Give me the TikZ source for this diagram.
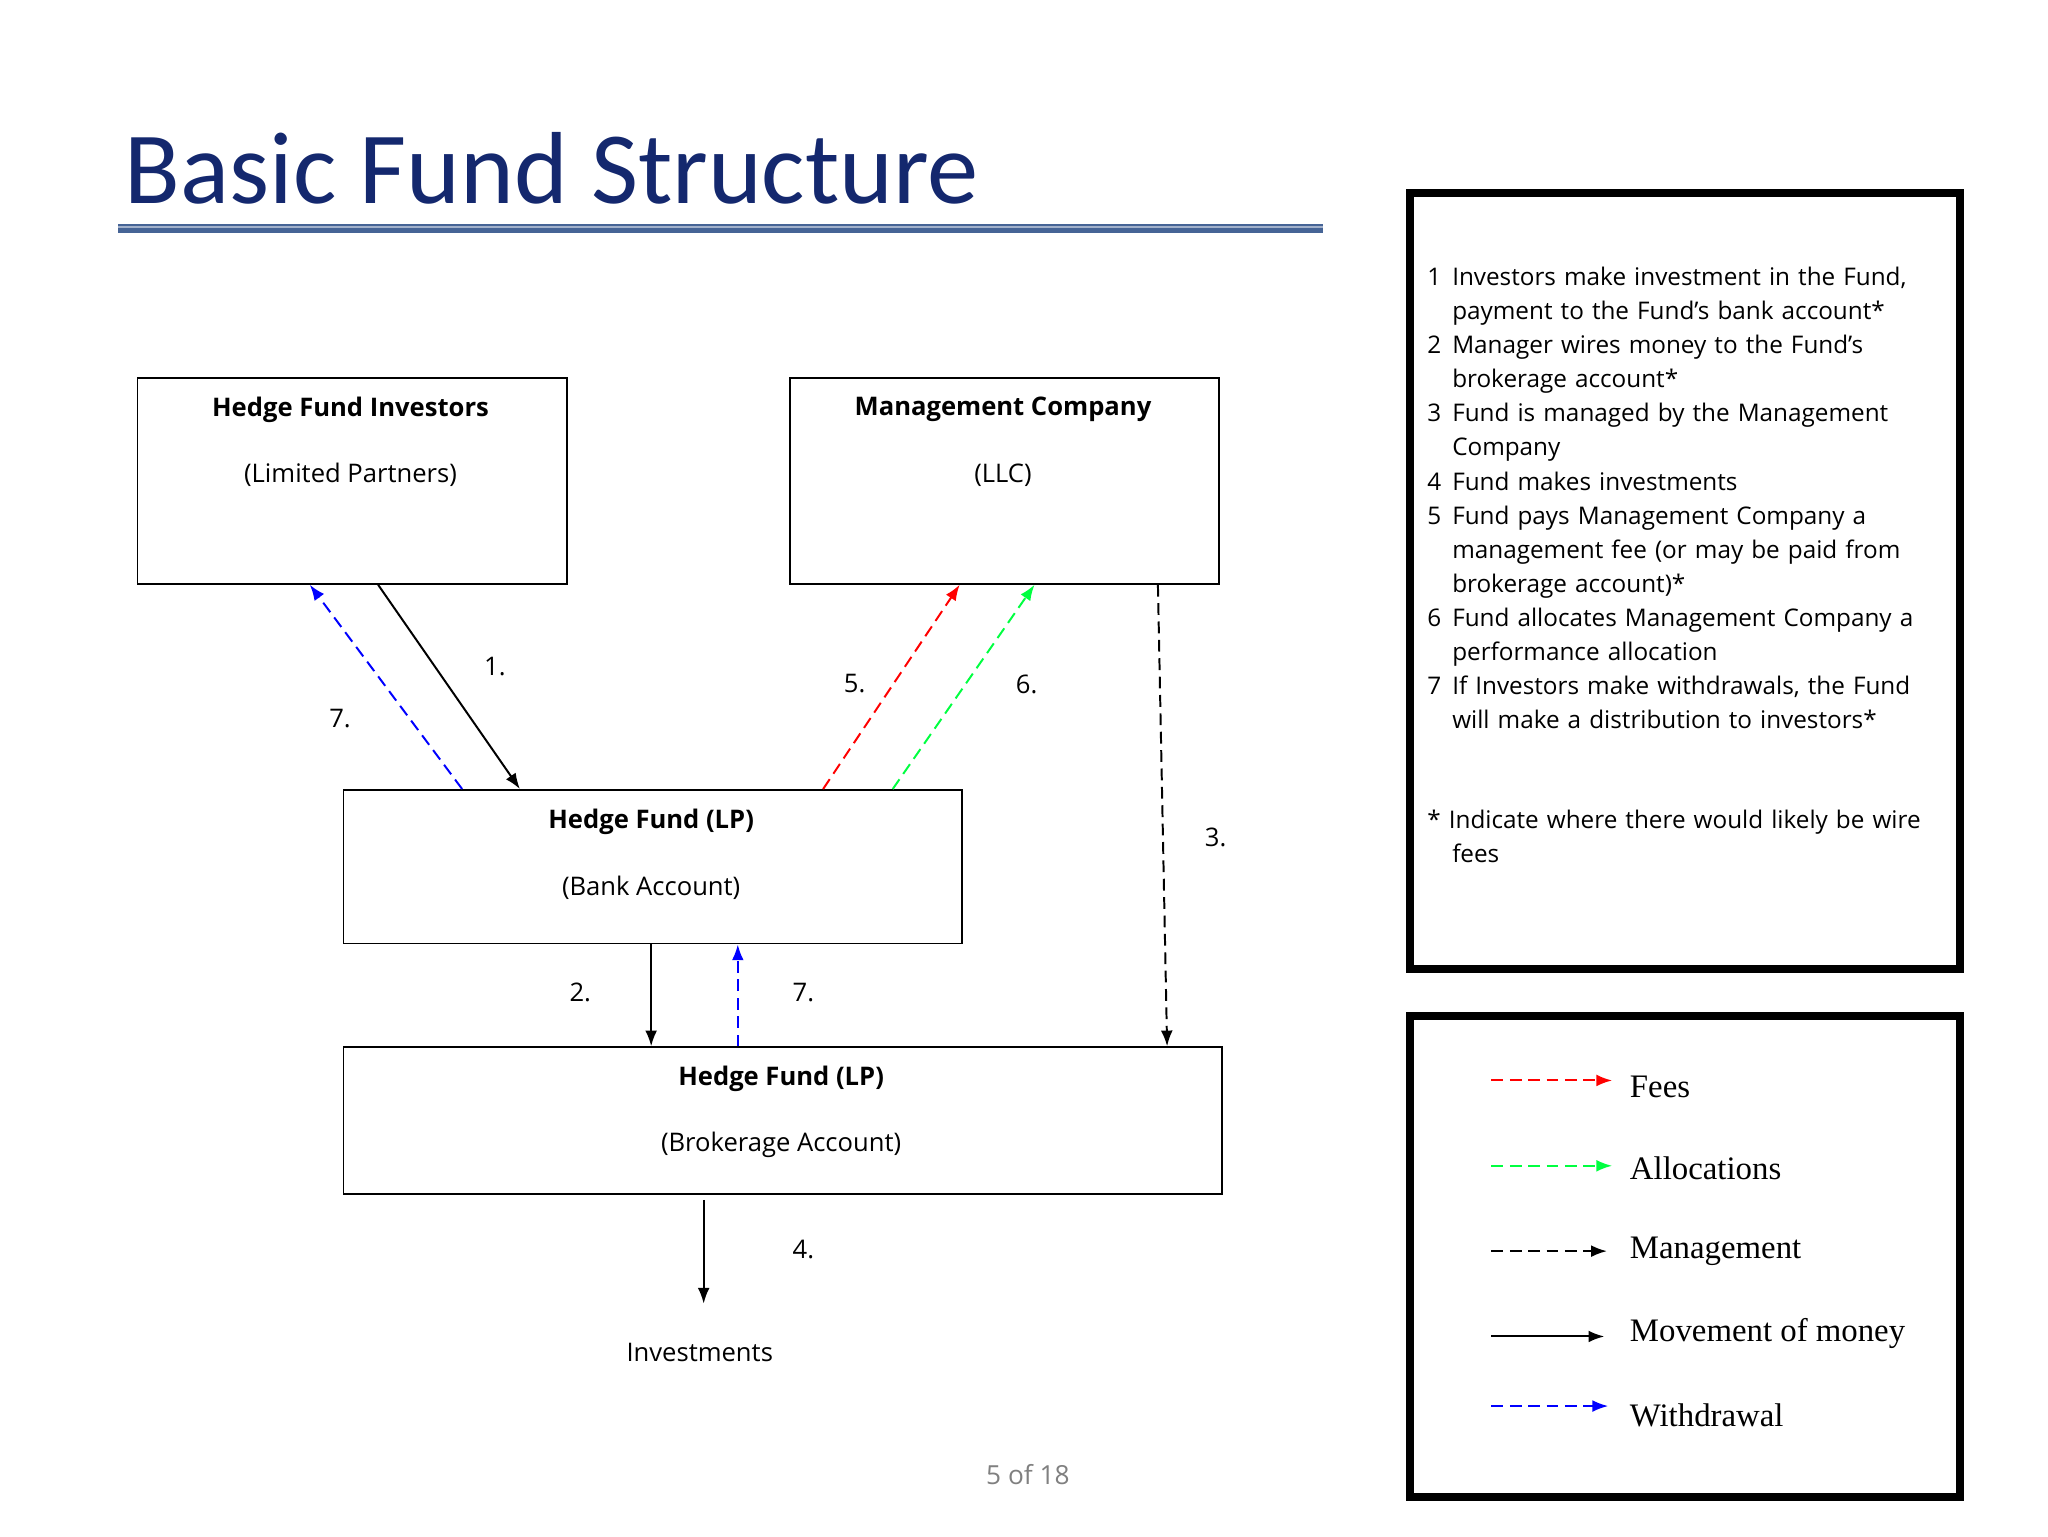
\documentclass[tikz,border=0pt]{standalone}
\usepackage{fontspec}
\setmainfont{Open Sans}
\newfontfamily\titlefont{Carlito}
\newfontfamily\serif{Liberation Serif}
\usetikzlibrary{arrows.meta}
\definecolor{navy}{RGB}{20,40,110}
\definecolor{rule}{RGB}{70,100,150}
\begin{document}
\begin{tikzpicture}[x=1pt,y=-1pt,
  box/.style={draw,line width=1.4pt,inner sep=0,anchor=north west},
  lbl/.style={font=\fontsize{19.5}{23}\selectfont},
  blbl/.style={font=\bfseries\fontsize{19.5}{23}\selectfont},
  arr/.style={line width=1.5pt,-{Latex[length=12pt,width=9pt]}},
  dsh/.style={arr,dash pattern=on 9pt off 5pt},
  leg/.style={font=\serif\fontsize{25}{30}\selectfont,anchor=west},
  note/.style={font=\fontsize{18.5}{26}\selectfont,anchor=north west,align=left,text width=410pt,inner sep=0}]
\useasboundingbox (0,0) rectangle (1560,1170);
\node[anchor=base west,inner sep=0,text=navy,font=\titlefont\fontsize{78}{82}\selectfont] (title) at (95,155) {Basic Fund Structure};
\draw[line width=7pt,color=rule] (90,174) -- (1008,174);
\draw[line width=1.5pt,color=rule!50] (90,173) -- (1008,173);
% boxes
\node[box,minimum width=327pt,minimum height=157pt] (inv) at (104,287) {};
\node[blbl] (invt) at (267,312) {Hedge Fund Investors};
\node[lbl] (invs) at (267,362) {(Limited Partners)};
\node[box,minimum width=327pt,minimum height=157pt] (mc) at (601,287) {};
\node[blbl] (mct) at (764,312) {Management Company};
\node[lbl] (mcs) at (764,362) {(LLC)};
\node[box,minimum width=471pt,minimum height=117pt] (bank) at (261,601) {};
\node[blbl] (bankt) at (496,626) {Hedge Fund (LP)};
\node[lbl] (banks) at (496,676) {(Bank Account)};
\node[box,minimum width=669pt,minimum height=112pt] (brk) at (261,797) {};
\node[blbl] (brkt) at (595,822) {Hedge Fund (LP)};
\node[lbl] (brks) at (595,872) {(Brokerage Account)};
\node[lbl] (invest) at (533,1030) {Investments};
\coordinate (c4) at (536,914);
\coordinate (e4) at (536,993);
% arrows
\draw[arr] ([xshift=184pt]inv.south west) -- ([xshift=135pt]bank.north west);
\draw[dsh,blue] ([xshift=91pt]bank.north west) -- ([xshift=132pt]inv.south west);
\draw[dsh,red] ([xshift=366pt]bank.north west) -- ([xshift=130pt]mc.south west);
\draw[dsh,green!75!cyan] ([xshift=419pt]bank.north west) -- ([xshift=187pt]mc.south west);
\draw[dsh] ([xshift=281pt]mc.south west) -- ([xshift=628pt]brk.north west);
\draw[arr] ([xshift=235pt]bank.south west) -- ([xshift=235pt]brk.north west);
\draw[dsh,blue] ([xshift=301pt]brk.north west) -- ([xshift=301pt]bank.south west);
\draw[arr] (c4) -- (e4);
\node[lbl] (l1) at (377,508) {1.};
\node[lbl] (l7a) at (259,547) {7.};
\node[lbl] (l5) at (651,521) {5.};
\node[lbl] (l6) at (782,521) {6.};
\node[lbl] (l3) at (926,638) {3.};
\node[lbl] (l2) at (442,756) {2.};
\node[lbl] (l7b) at (612,756) {7.};
\node[lbl] (l4) at (612,952) {4.};
\node[lbl,text=gray,font=\fontsize{20}{24}\selectfont] (pg) at (783,1123) {5 of 18};
% notes box
\node[box,line width=6pt,minimum width=419pt,minimum height=591pt] (notes) at (1071,144) {};
\node[note] (ntxt) at (1087,203) {%
\makebox[19pt][l]{1}Investors make investment in the Fund,\\
\hspace*{19pt}payment to the Fund’s bank account*\\
\makebox[19pt][l]{2}Manager wires money to the Fund’s\\
\hspace*{19pt}brokerage account*\\
\makebox[19pt][l]{3}Fund is managed by the Management\\
\hspace*{19pt}Company\\
\makebox[19pt][l]{4}Fund makes investments\\
\makebox[19pt][l]{5}Fund pays Management Company a\\
\hspace*{19pt}management fee (or may be paid from\\
\hspace*{19pt}brokerage account)*\\
\makebox[19pt][l]{6}Fund allocates Management Company a\\
\hspace*{19pt}performance allocation\\
\makebox[19pt][l]{7}If Investors make withdrawals, the Fund\\
\hspace*{19pt}will make a distribution to investors*};
\node[note] (nstar) at (1087,617) {* Indicate where there would likely be wire\\\hspace*{19pt}fees};
% legend box
\node[box,line width=6pt,minimum width=419pt,minimum height=366pt] (legend) at (1071,771) {};
\coordinate (a1) at (1136,823); \coordinate (b1) at (1228,823);
\coordinate (a2) at (1136,888); \coordinate (b2) at (1228,888);
\coordinate (a3) at (1136,953); \coordinate (b3) at (1224,953);
\coordinate (a4) at (1136,1018); \coordinate (b4) at (1222,1018);
\coordinate (a5) at (1136,1071); \coordinate (b5) at (1225,1071);
\draw[dsh,red] (a1) -- (b1);
\draw[dsh,green!75!cyan] (a2) -- (b2);
\draw[dsh] (a3) -- (b3);
\draw[arr] (a4) -- (b4);
\draw[dsh,blue] (a5) -- (b5);
\node[leg] (t1) at (1238,828) {Fees};
\node[leg] (t2) at (1238,890) {Allocations};
\node[leg] (t3) at (1238,953) {Management};
\node[leg] (t4) at (1238,1016) {Movement of money};
\node[leg] (t5) at (1238,1078) {Withdrawal};
\end{tikzpicture}
\end{document}
